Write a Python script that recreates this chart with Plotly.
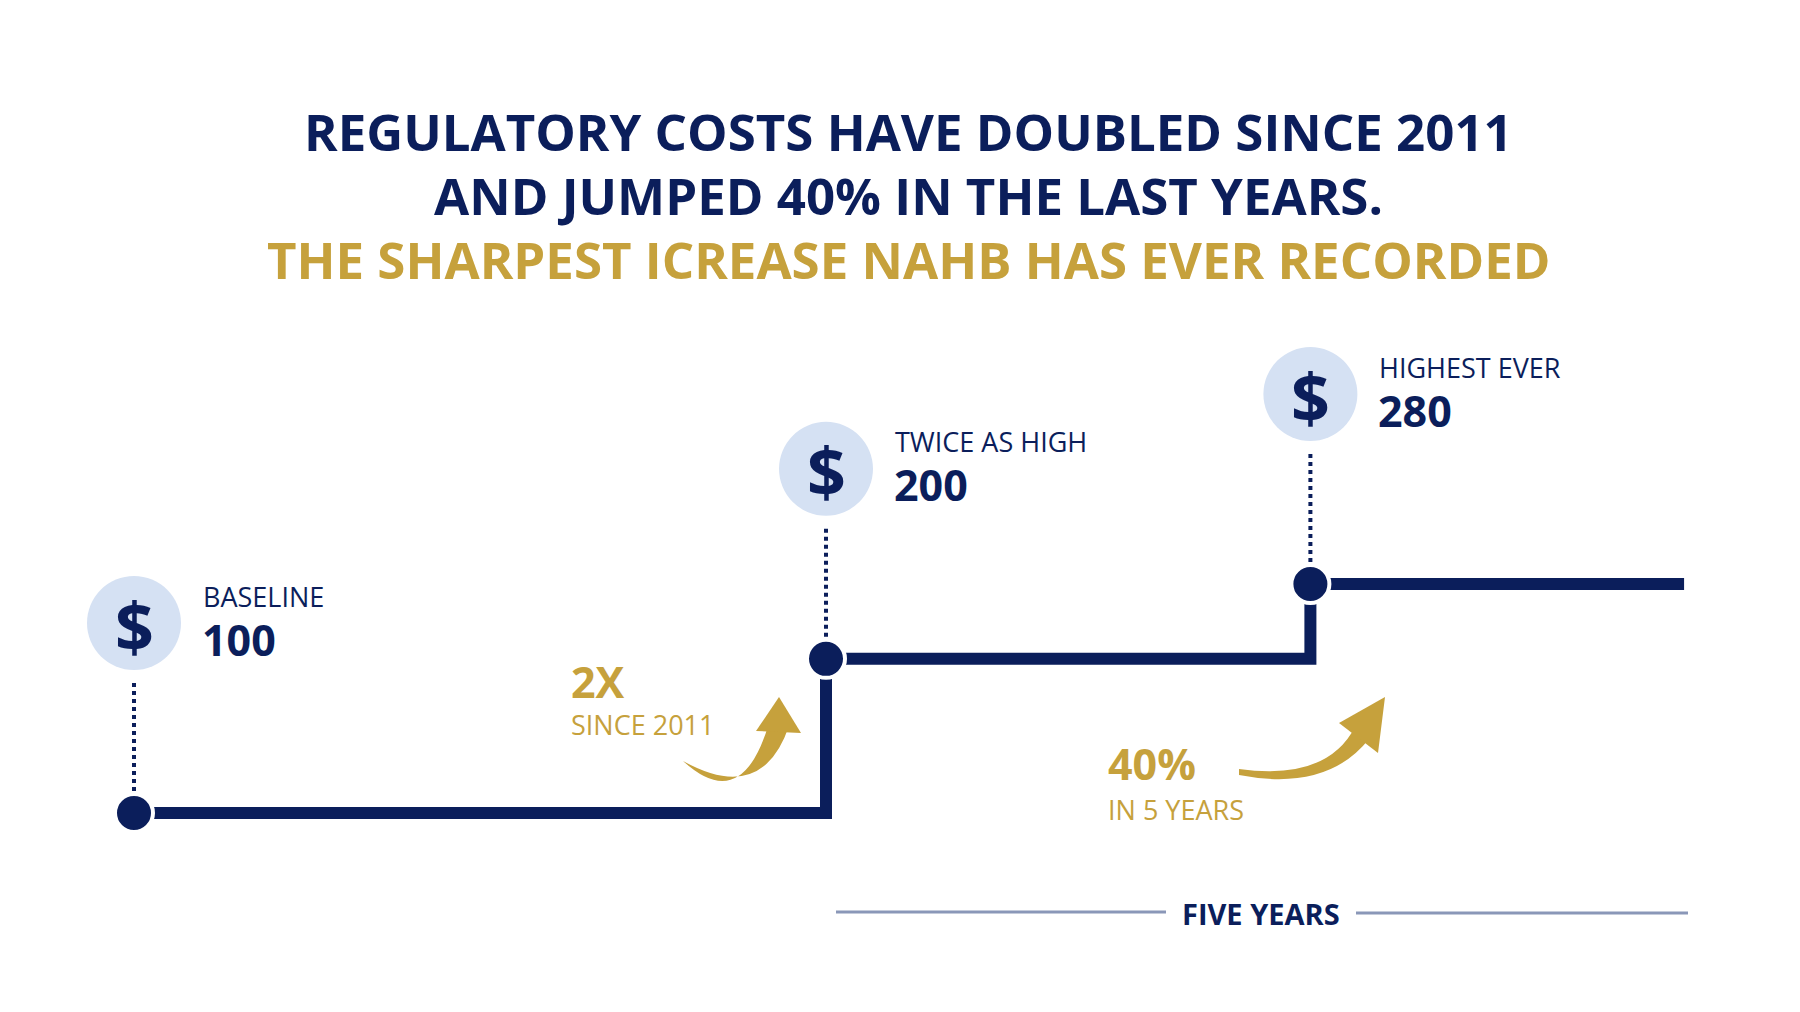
import math
import plotly.graph_objects as go

# data
years = [2011, 2016, 2019.5]
cost_index = [100, 200, 280]
end_year = 2022.2
labels = ["BASELINE", "TWICE AS HIGH", "HIGHEST EVER"]

NAVY = "#0b1e5b"
GOLD = "#c6a13c"
CIRCLE = "#d5e1f3"
FONT = "Open Sans"

W, H = 1800, 1012
xr = [2011 - 126 / 138.4, 2011 + 1674 / 138.4]
K = 512.0
yr = [2 - (H - 805) / K, 2 + 805 / K]   # log axis range


def py(v):
    # pixel row of a value on the log axis (used for the decorations on y2)
    return 805 - (math.log10(v) - 2) * K


def X(px):
    return xr[0] + (px - 11) / W * (xr[1] - xr[0])


def P(p):
    return p - 11


fig = go.Figure()

# step line
fig.add_trace(go.Scatter(x=years + [end_year], y=cost_index + [cost_index[-1]],
                         mode="lines", line=dict(color=NAVY, width=12, shape="hv"),
                         hoverinfo="skip"))
# dots
fig.add_trace(go.Scatter(x=years, y=cost_index, mode="markers",
                         marker=dict(color=NAVY, size=38, line=dict(color="white", width=4)),
                         hoverinfo="skip"))

shapes = []
ann = []
for yx, v, lab in zip(years, cost_index, labels):
    p = py(v)
    shapes.append(dict(type="circle", xref="x", yref="y2", xsizemode="pixel",
                       xanchor=yx, x0=-47, x1=47, y0=p - 237, y1=p - 143,
                       fillcolor=CIRCLE, line=dict(width=0), layer="below"))
    ann.append(dict(x=yx, y=p - 188, xref="x", yref="y2", text="<b>$</b>", showarrow=False,
                    font=dict(family=FONT, size=68, color=NAVY)))
    shapes.append(dict(type="line", xref="x", yref="y2", x0=yx, x1=yx, y0=p - 130, y1=p - 22,
                       line=dict(color=NAVY, width=4, dash="dot")))
    ann.append(dict(x=yx, y=p - 217, xref="x", yref="y2", xshift=67, text=lab,
                    xanchor="left", showarrow=False, font=dict(family=FONT, size=27, color=NAVY)))
    ann.append(dict(x=yx, y=p - 174, xref="x", yref="y2", xshift=66, text="<b>%d</b>" % v,
                    xanchor="left", showarrow=False, font=dict(family=FONT, size=43, color=NAVY)))

# gold notes
notes = [("<b>2X</b>", 572, 684, 43), ("SINCE 2011", 572, 727, 27),
         ("<b>40%</b>", 1109, 766, 43), ("IN 5 YEARS", 1109, 812, 27)]
for t, nx, ny, fs in notes:
    ann.append(dict(x=X(nx), y=P(ny), xref="x", yref="y2", text=t, xanchor="left",
                    showarrow=False, font=dict(family=FONT, size=fs, color=GOLD)))


def pth(pts, close=False):
    s = "M %f,%f" % (X(pts[0][0]), P(pts[0][1]))
    i = 1
    while i < len(pts):
        if pts[i] == "Q":
            s += " Q %f,%f %f,%f" % (X(pts[i + 1][0]), P(pts[i + 1][1]), X(pts[i + 2][0]), P(pts[i + 2][1]))
            i += 3
        else:
            s += " L %f,%f" % (X(pts[i][0]), P(pts[i][1]))
            i += 1
    return s + (" Z" if close else "")


arrows = [
    [(686, 764), "Q", (745, 818), (772, 726), (792, 729), "Q", (765, 808), (686, 764)],
    [(759, 734), (782, 700), (804, 736)],
    [(1242, 772), "Q", (1330, 784), (1358, 730), (1372, 742), "Q", (1330, 795), (1242, 778)],
    [(1342, 726), (1388, 700), (1381, 756)],
]
for a in arrows:
    shapes.append(dict(type="path", xref="x", yref="y2", fillcolor=GOLD, line=dict(width=0),
                       path=pth(a, True)))

# five years bracket
shapes.append(dict(type="line", xref="x", yref="y2", x0=X(839), x1=X(1169), y0=P(915), y1=P(915),
                   line=dict(color="#8a97b8", width=3)))
shapes.append(dict(type="line", xref="x", yref="y2", x0=X(1359), x1=X(1691), y0=P(916), y1=P(916),
                   line=dict(color="#8a97b8", width=3)))
ann.append(dict(x=X(1264), y=P(916), xref="x", yref="y2", text="<b>FIVE YEARS</b>", showarrow=False,
                font=dict(family=FONT, size=29, color=NAVY)))

# title
titles = [("REGULATORY COSTS HAVE DOUBLED SINCE 2011", NAVY, 123),
          ("AND JUMPED 40% IN THE LAST YEARS.", NAVY, 187),
          ("THE SHARPEST ICREASE NAHB HAS EVER RECORDED", GOLD, 251)]
for t, c, ty in titles:
    ann.append(dict(x=0.5, y=1 - ty / H, xref="paper", yref="paper", yanchor="middle",
                    text="<b>%s</b>" % t, showarrow=False,
                    font=dict(family=FONT, size=51, color=c)))

fig.update_layout(width=W, height=H, margin=dict(l=0, r=0, t=0, b=0),
                  plot_bgcolor="white", paper_bgcolor="white", showlegend=False,
                  shapes=shapes, annotations=ann,
                  xaxis=dict(range=xr, visible=False, fixedrange=True),
                  yaxis=dict(type="log", range=yr, visible=False, fixedrange=True),
                  yaxis2=dict(range=[H, 0], overlaying="y", visible=False, fixedrange=True))
fig.write_html("out.html")
